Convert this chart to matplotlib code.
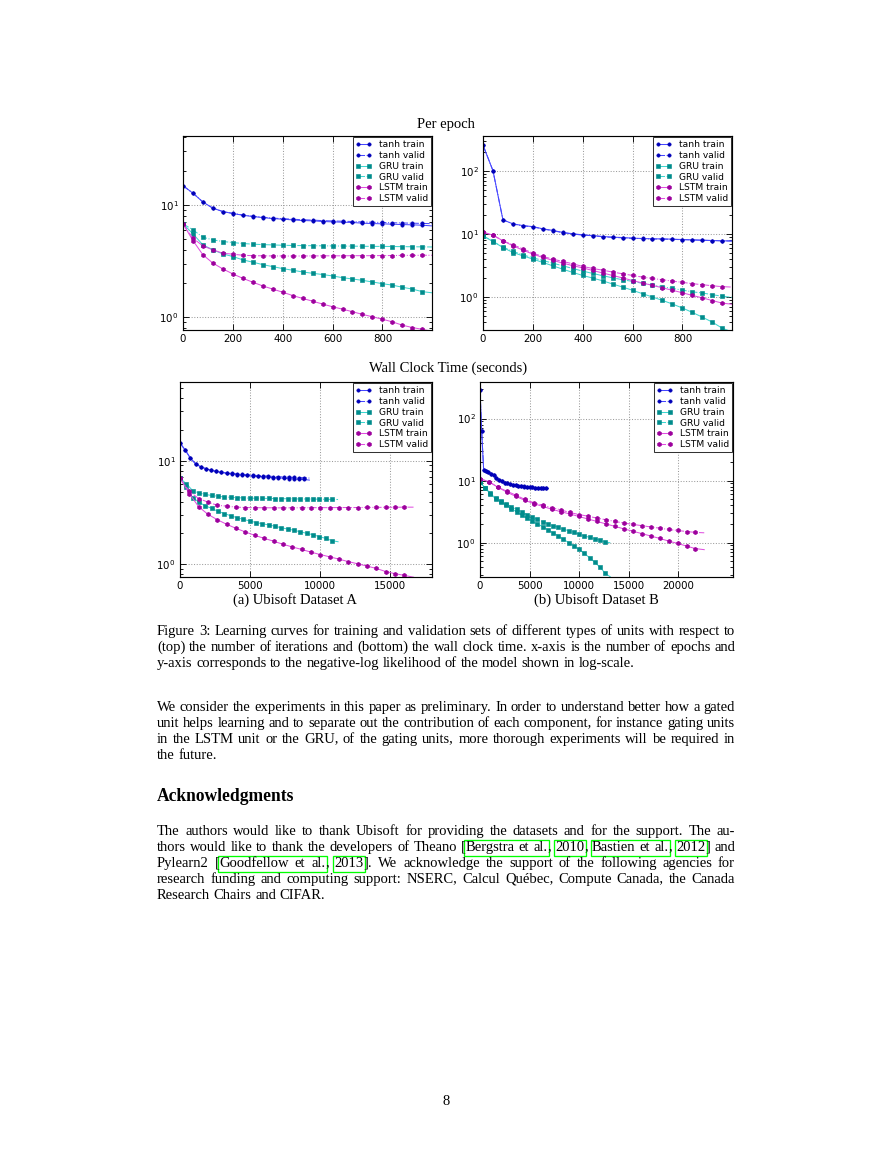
import math
import matplotlib
matplotlib.use('Agg')
import matplotlib.pyplot as plt
from matplotlib.patches import Rectangle
from matplotlib.lines import Line2D
from matplotlib.ticker import NullFormatter
from matplotlib.font_manager import FontProperties

# ------------------------------------------------------------------ data
# epochs at which markers are drawn (plus the end of each curve)
epochs = [0, 40, 80, 120, 160, 200, 240, 280, 320, 360, 400, 440, 480, 520,
          560, 600, 640, 680, 720, 760, 800, 840, 880, 920, 960, 999]

# Dataset A, negative log-likelihood per epoch
A_tanh_train = [14.8, 12.7, 10.6, 9.34, 8.72, 8.37, 8.09, 7.87, 7.71, 7.55, 7.46, 7.35, 7.26,
                7.21, 7.11, 7.06, 7.01, 6.97, 6.87, 6.82, 6.78, 6.73, 6.68, 6.64, 6.59, 6.50]
A_tanh_valid = [14.8, 12.7, 10.6, 9.34, 8.72, 8.40, 8.12, 7.92, 7.77, 7.62, 7.54, 7.45, 7.37,
                7.32, 7.24, 7.19, 7.15, 7.11, 7.04, 7.00, 6.97, 6.93, 6.90, 6.87, 6.84, 6.80]
A_gru_train = [6.78, 5.52, 4.40, 3.98, 3.66, 3.47, 3.24, 3.09, 2.94, 2.82, 2.71, 2.62, 2.53,
               2.46, 2.40, 2.33, 2.25, 2.19, 2.13, 2.06, 1.99, 1.93, 1.85, 1.78, 1.69, 1.65]
A_gru_valid = [6.78, 5.99, 5.15, 4.88, 4.72, 4.62, 4.53, 4.47, 4.43, 4.40, 4.37, 4.35, 4.34,
               4.33, 4.32, 4.31, 4.30, 4.29, 4.28, 4.27, 4.27, 4.26, 4.25, 4.24, 4.23, 4.22]
A_lstm_train = [6.78, 4.81, 3.59, 3.03, 2.69, 2.43, 2.22, 2.05, 1.90, 1.78, 1.67, 1.56, 1.47,
                1.39, 1.31, 1.24, 1.18, 1.12, 1.06, 1.01, 0.96, 0.91, 0.85, 0.81, 0.78, 0.75]
A_lstm_valid = [6.78, 5.05, 4.31, 3.98, 3.71, 3.64, 3.56, 3.53, 3.52, 3.51, 3.51, 3.50, 3.51,
                3.51, 3.52, 3.52, 3.52, 3.53, 3.53, 3.53, 3.54, 3.54, 3.55, 3.55, 3.56, 3.56]

# Dataset B, negative log-likelihood per epoch
B_tanh_train = [258, 101, 16.8, 14.5, 13.6, 13.1, 12.1, 11.4, 10.6, 10.1, 9.70, 9.47, 9.13,
                8.91, 8.80, 8.59, 8.49, 8.38, 8.38, 8.28, 8.18, 8.08, 7.98, 7.89, 7.80, 7.75]
B_tanh_valid = [258, 101, 16.8, 14.4, 13.5, 13.0, 12.0, 11.3, 10.5, 10.0, 9.60, 9.40, 9.05,
                8.85, 8.70, 8.55, 8.45, 8.35, 8.30, 8.22, 8.13, 8.05, 7.96, 7.88, 7.80, 7.75]
B_gru_train = [9.35, 7.61, 6.11, 5.09, 4.51, 4.00, 3.54, 3.13, 2.77, 2.46, 2.20, 2.00, 1.81,
               1.61, 1.44, 1.28, 1.13, 1.00, 0.885, 0.775, 0.67, 0.57, 0.48, 0.40, 0.32, 0.28]
B_gru_valid = [9.35, 7.60, 6.20, 5.30, 4.68, 4.20, 3.80, 3.45, 3.13, 2.84, 2.58, 2.37, 2.18,
               2.02, 1.88, 1.77, 1.65, 1.55, 1.46, 1.37, 1.29, 1.21, 1.16, 1.09, 1.03, 0.99]
B_lstm_train = [10.7, 9.59, 7.80, 6.50, 5.55, 4.80, 4.25, 3.83, 3.45, 3.15, 2.90, 2.64, 2.41,
                2.20, 2.01, 1.83, 1.67, 1.53, 1.40, 1.28, 1.17, 1.06, 0.97, 0.88, 0.80, 0.77]
B_lstm_valid = [10.7, 9.60, 7.80, 6.74, 5.82, 4.97, 4.40, 4.00, 3.67, 3.37, 3.06, 2.84, 2.67,
                2.49, 2.34, 2.20, 2.07, 1.97, 1.88, 1.79, 1.71, 1.63, 1.57, 1.51, 1.46, 1.44]

# Dataset A, wall clock time (seconds) of the same points
A_time_tanh = [0, 370, 740, 1110, 1480, 1850, 2220, 2590, 2960, 3330, 3700, 4070, 4440, 4810,
               5180, 5550, 5920, 6290, 6660, 7030, 7400, 7770, 8140, 8510, 8880, 9240]
A_time_gru = [0, 452, 904, 1356, 1808, 2260, 2712, 3164, 3616, 4068, 4520, 4972, 5424, 5876,
              6328, 6780, 7232, 7684, 8136, 8588, 9040, 9492, 9944, 10396, 10848, 11290]
A_time_lstm = [0, 668, 1336, 2004, 2672, 3340, 4008, 4676, 5344, 6012, 6680, 7348, 8016, 8684,
               9352, 10020, 10688, 11356, 12024, 12692, 13360, 14028, 14696, 15364, 16032, 16680]

# Dataset B, wall clock time (seconds)
B_time_gru = [0, 526, 1052, 1578, 2104, 2630, 3156, 3682, 4208, 4734, 5260, 5786, 6312, 6838,
              7364, 7890, 8416, 8942, 9468, 9994, 10520, 11046, 11572, 12098, 12624, 13140]
B_time_lstm = [0, 905, 1810, 2715, 3620, 4525, 5430, 6335, 7240, 8145, 9050, 9955, 10860,
               11765, 12670, 13575, 14480, 15385, 16290, 17195, 18100, 19005, 19910, 20815,
               21720, 22600]
B_time_tanh = [0, 170, 370, 600, 850, 1100, 1370, 1630, 1930, 2200, 2500, 2770, 3030, 3330,
               3600, 3870, 4170, 4430, 4700, 5000, 5270, 5530, 5830, 6100, 6370, 6670, 6870]
B_wall_tanh_train = [286, 62, 14.7, 14.5, 13.8, 13.0, 12.2, 11.1, 10.4, 9.75, 9.30, 9.07, 8.80,
                     8.60, 8.40, 8.30, 8.15, 8.05, 7.95, 7.85, 7.80, 7.70, 7.65, 7.60, 7.55,
                     7.50, 7.45]
B_wall_tanh_valid = [286, 62, 14.7, 14.4, 13.7, 12.9, 12.1, 11.0, 10.3, 9.70, 9.25, 9.02, 8.76,
                     8.56, 8.37, 8.27, 8.12, 8.02, 7.92, 7.83, 7.77, 7.68, 7.62, 7.58, 7.53,
                     7.48, 7.44]

labels = ['tanh train', 'tanh valid', 'GRU train', 'GRU valid', 'LSTM train', 'LSTM valid']

# ------------------------------------------------------------------ figure
W, H = 893, 1155
DPI = 105
fig = plt.figure(figsize=(W / DPI, H / DPI), dpi=DPI)
fig.patch.set_facecolor('white')

SERIF = ['Liberation Serif', 'DejaVu Serif']


def fx(x):
    return x / W


def fy(y):
    return 1 - y / H


def axes_px(l, r, t, b):
    return fig.add_axes([l / W, 1 - b / H, (r - l) / W, (b - t) / H])


STY = {
    'tanh': dict(color='#4646ff', mc='#0000b8', marker='o', ms=2.3),
    'GRU': dict(color='#3fd6cf', mc='#008c8c', marker='s', ms=2.2),
    'LSTM': dict(color='#e04ee0', mc='#9c009c', marker='h', ms=3.0),
}


def draw_series(ax, x, y, unit, valid):
    s = STY[unit]
    ls = '-.' if valid else '-'
    ax.plot(x, y, ls=ls, color=s['color'], lw=0.7, marker=s['marker'], ms=s['ms'],
            mfc=s['mc'], mec=s['mc'], mew=0.4, markevery=slice(0, len(x) - 1))


def proxies():
    hs = []
    for unit in ['tanh', 'GRU', 'LSTM']:
        s = STY[unit]
        for valid in (False, True):
            hs.append(Line2D([], [], ls='-.' if valid else '-', color=s['color'], lw=0.7,
                             marker=s['marker'], ms=s['ms'], mfc=s['mc'], mec=s['mc'], mew=0.4))
    return hs


def style(ax, xlim, ylim, xticks):
    ax.set_yscale('log')
    ax.set_xlim(*xlim)
    ax.set_ylim(*ylim)
    ax.set_xticks(xticks)
    ax.yaxis.set_minor_formatter(NullFormatter())
    ax.tick_params(which='both', direction='in', top=True, right=True, labelsize=7,
                   width=0.6, pad=3)
    ax.tick_params(which='major', length=4)
    ax.tick_params(which='minor', length=2)
    for sp in ax.spines.values():
        sp.set_linewidth(0.8)
    ax.grid(True, which='major', ls=':', color='#9a9a9a', lw=0.7)
    leg = ax.legend(proxies(), labels, loc='upper right', fontsize=6.3, numpoints=2,
                    handlelength=1.8, handletextpad=0.7, labelspacing=0.2,
                    borderpad=0.3, borderaxespad=0.15, fancybox=False, framealpha=1)
    leg.get_frame().set_edgecolor('#333333')
    leg.get_frame().set_linewidth(0.7)


# Top left: dataset A per epoch
ax1 = axes_px(183, 432, 136, 330)
draw_series(ax1, epochs, A_tanh_train, 'tanh', False)
draw_series(ax1, epochs, A_tanh_valid, 'tanh', True)
draw_series(ax1, epochs, A_gru_train, 'GRU', False)
draw_series(ax1, epochs, A_gru_valid, 'GRU', True)
draw_series(ax1, epochs, A_lstm_train, 'LSTM', False)
draw_series(ax1, epochs, A_lstm_valid, 'LSTM', True)
style(ax1, (0, 999), (0.77, 41), [0, 200, 400, 600, 800])

# Top right: dataset B per epoch
ax2 = axes_px(483, 732, 136, 330)
draw_series(ax2, epochs, B_tanh_train, 'tanh', False)
draw_series(ax2, epochs, B_tanh_valid, 'tanh', True)
draw_series(ax2, epochs, B_gru_train, 'GRU', False)
draw_series(ax2, epochs, B_gru_valid, 'GRU', True)
draw_series(ax2, epochs, B_lstm_train, 'LSTM', False)
draw_series(ax2, epochs, B_lstm_valid, 'LSTM', True)
style(ax2, (0, 999), (0.30, 359), [0, 200, 400, 600, 800])

# Bottom left: dataset A wall clock
ax3 = axes_px(180, 432, 382, 577)
draw_series(ax3, A_time_tanh, A_tanh_train, 'tanh', False)
draw_series(ax3, A_time_tanh, A_tanh_valid, 'tanh', True)
draw_series(ax3, A_time_gru, A_gru_train, 'GRU', False)
draw_series(ax3, A_time_gru, A_gru_valid, 'GRU', True)
draw_series(ax3, A_time_lstm, A_lstm_train, 'LSTM', False)
draw_series(ax3, A_time_lstm, A_lstm_valid, 'LSTM', True)
style(ax3, (0, 18000), (0.753, 57.6), [0, 5000, 10000, 15000])

# Bottom right: dataset B wall clock
ax4 = axes_px(480, 733, 382, 577)
draw_series(ax4, B_time_tanh, B_wall_tanh_train, 'tanh', False)
draw_series(ax4, B_time_tanh, B_wall_tanh_valid, 'tanh', True)
draw_series(ax4, B_time_gru, B_gru_train, 'GRU', False)
draw_series(ax4, B_time_gru, B_gru_valid, 'GRU', True)
draw_series(ax4, B_time_lstm, B_lstm_train, 'LSTM', False)
draw_series(ax4, B_time_lstm, B_lstm_valid, 'LSTM', True)
style(ax4, (0, 25500), (0.279, 389), [0, 5000, 10000, 15000, 20000])

# ------------------------------------------------------------------ page text
renderer = fig.canvas.get_renderer()
PROP = FontProperties(family=SERIF, size=10)
PROP_B = FontProperties(family=SERIF, size=12, weight='bold')


def baseline_fix(s, ybase, prop):
    """Agg places the glyph bitmap by rounding; choose the anchor so that the
    rendered baseline of every piece lands exactly on pixel row ybase."""
    try:
        _, h, d = renderer.get_text_width_height_descent(s, prop, ismath=False)
    except Exception:
        return ybase
    a = h - d
    return ybase + math.floor(h) - math.floor(a) - d


def put(x, y, s, bold=False, **kw):
    prop = PROP_B if bold else PROP
    fig.text(fx(x), fy(baseline_fix(s, y, prop)), s, fontproperties=prop,
             va='baseline', **kw)


put(446, 128, 'Per epoch', ha='center')
put(448, 372, 'Wall Clock Time (seconds)', ha='center')
put(295, 604, '(a) Ubisoft Dataset A', ha='center')
put(596, 604, '(b) Ubisoft Dataset B', ha='center')

LEFT, RIGHT = 157, 735


def tw(s):
    if not s:
        return 0.0
    t = fig.text(0, 0, s, fontproperties=PROP)
    w = t.get_window_extent(renderer).width
    t.remove()
    return w


SP = tw('a a') - tw('aa')
boxes = []


def render_line(line, ybase, justify):
    words = line.split()
    plain = [w.replace('{', '').replace('}', '') for w in words]
    wids = [tw(p) for p in plain]
    if justify and len(words) > 1:
        gap = (RIGHT - LEFT - sum(wids)) / (len(words) - 1)
    else:
        gap = SP
    x0 = LEFT
    box_start = None
    for w, wd in zip(words, wids):
        pieces = []
        cur = ''
        for ch in w:
            if ch in '{}':
                if cur:
                    pieces.append(cur)
                    cur = ''
                pieces.append(ch)
            else:
                cur += ch
        if cur:
            pieces.append(cur)
        texts = [p for p in pieces if p not in '{}']
        scale = wd / max(sum(tw(p) for p in texts), 1e-6)
        x = x0
        for p in pieces:
            if p == '{':
                box_start = x
            elif p == '}':
                boxes.append((box_start, x, ybase))
            else:
                put(x, ybase, p)
                x += tw(p) * scale
        x0 += wd + gap


def paragraph(lines, y0, lead=16):
    for i, line in enumerate(lines):
        render_line(line, y0 + i * lead, i < len(lines) - 1)


caption = [
    'Figure 3: Learning curves for training and validation sets of different types of units with respect to',
    '(top) the number of iterations and (bottom) the wall clock time. x-axis is the number of epochs and',
    'y-axis corresponds to the negative-log likelihood of the model shown in log-scale.',
]
body = [
    'We consider the experiments in this paper as preliminary. In order to understand better how a gated',
    'unit helps learning and to separate out the contribution of each component, for instance gating units',
    'in the LSTM unit or the GRU, of the gating units, more thorough experiments will be required in',
    'the future.',
]
ack = [
    'The authors would like to thank Ubisoft for providing the datasets and for the support. The au-',
    'thors would like to thank the developers of Theano [{Bergstra et al.}, {2010}, {Bastien et al.}, {2012}] and',
    'Pylearn2 [{Goodfellow et al.}, {2013}]. We acknowledge the support of the following agencies for',
    'research funding and computing support: NSERC, Calcul Québec, Compute Canada, the Canada',
    'Research Chairs and CIFAR.',
]

paragraph(caption, 635)
paragraph(body, 711)
put(LEFT, 801, 'Acknowledgments', bold=True)
paragraph(ack, 835)

for (x0, x1, yb) in boxes:
    top, bot = yb - 11.5, yb + 4.5
    fig.add_artist(Rectangle((fx(x0 - 1.5), fy(bot)), (x1 - x0 + 3) / W, (bot - top) / H,
                             transform=fig.transFigure, fill=False, ec='#00ff00', lw=0.9))

put(446.5, 1105, '8', ha='center')

fig.savefig('out.png', dpi=DPI, facecolor='white')
